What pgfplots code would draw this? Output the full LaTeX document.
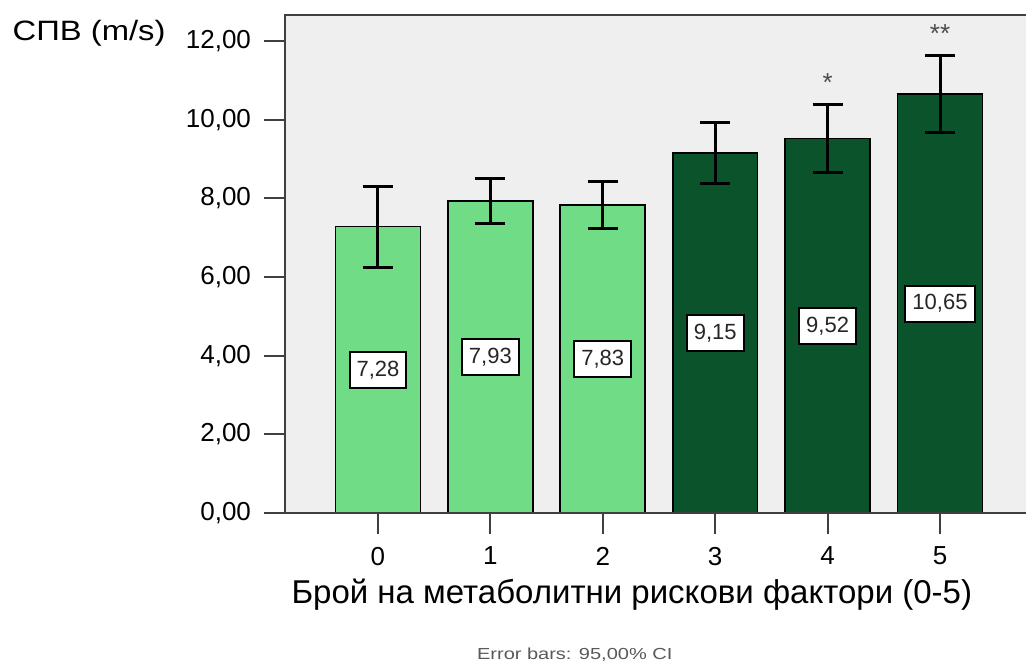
\documentclass[border=0pt]{standalone}
\usepackage{pgfplots}
\pgfplotsset{compat=1.18}
\usepackage{fontspec}
\setmainfont{Liberation Sans}
\definecolor{lightbar}{RGB}{112,220,133}
\definecolor{darkbar}{RGB}{11,83,42}
\definecolor{bgc}{RGB}{239,239,239}
\definecolor{framec}{RGB}{64,64,64}
\begin{document}
\begin{tikzpicture}
\begin{axis}[
  name=ax,
  scale only axis,
  width=370.5pt, height=249pt,
  xmin=-0.827, xmax=5.765, ymin=0, ymax=12.66,
  clip=false,
  axis background/.style={fill=bgc},
  axis line style={draw=none},
  xtick={0,1,2,3,4,5},
  ytick={0,2,4,6,8,10,12},
  xtick pos=bottom, ytick pos=left,
  tick align=outside,
  major tick length=10.5pt,
  tick style={line width=1pt, color=framec},
  /pgf/number format/assume math mode=true,
  yticklabel style={/pgf/number format/fixed, /pgf/number format/fixed zerofill, /pgf/number format/precision=2, /pgf/number format/use comma, xshift=-3pt},
  xticklabel style={yshift=-3pt},
  ticklabel style={font=\fontsize{13}{15}\selectfont},
]
\addplot[ybar, bar shift=0pt, bar width=0.756, fill=lightbar, draw=black, line width=0.8pt,
  error bars/.cd, y dir=both, y explicit,
  error bar style={line width=1.5pt, black},
  error mark options={rotate=90, mark size=7.5pt, line width=1.5pt, black}]
  coordinates {(0,7.28) +- (0,1.03) (1,7.93) +- (0,0.58) (2,7.83) +- (0,0.59)};
\addplot[ybar, bar shift=0pt, bar width=0.756, fill=darkbar, draw=black, line width=0.8pt,
  error bars/.cd, y dir=both, y explicit,
  error bar style={line width=1.5pt, black},
  error mark options={rotate=90, mark size=7.5pt, line width=1.5pt, black}]
  coordinates {(3,9.15) +- (0,0.77) (4,9.52) +- (0,0.87) (5,10.65) +- (0,0.97)};
\addplot[draw=none, mark=none, nodes near coords, point meta=explicit symbolic,
  nodes near coords style={anchor=center, draw=black, line width=1pt, fill=white, text=black!85,
    font=\fontsize{11}{12}\selectfont, inner xsep=3.5pt, inner ysep=2pt, minimum height=18pt}]
  table[x=x, y=y, meta=lab] {
x y lab
0 3.64 7,28
1 3.965 7,93
2 3.915 7,83
3 4.575 9,15
4 4.76 9,52
5 5.325 10,65
};
\addplot[draw=none, mark=none, nodes near coords, point meta=explicit symbolic,
  nodes near coords style={anchor=center, text=black!70, font=\fontsize{13}{14}\selectfont}]
  table[x=x, y=y, meta=lab] {
x y lab
4 10.93 *
5 12.18 **
};
\draw[framec, line width=1pt] (rel axis cs:1,1) -- (rel axis cs:0,1) -- (rel axis cs:0,0) -- (rel axis cs:1,0);
\node[anchor=west, font=\fontsize{14}{16}\selectfont, inner sep=0pt] at (rel axis cs:-0.368,0.964) {\scalebox{1.17}[1]{СПВ (m/s)}};
\node[font=\fontsize{16.5}{18}\selectfont] at (rel axis cs:0.468,-0.165) {Брой на метаболитни рискови фактори (0-5)};
\node[font=\fontsize{8}{9}\selectfont, text=black!65] at (rel axis cs:0.391,-0.285) {\scalebox{1.25}[1]{Error bars: 95,00\% CI}};
\end{axis}
\pgfresetboundingbox
\path[use as bounding box] ([xshift=-142.5pt, yshift=-74pt]ax.south west) rectangle ([yshift=7.5pt]ax.north east);
\end{tikzpicture}
\end{document}
